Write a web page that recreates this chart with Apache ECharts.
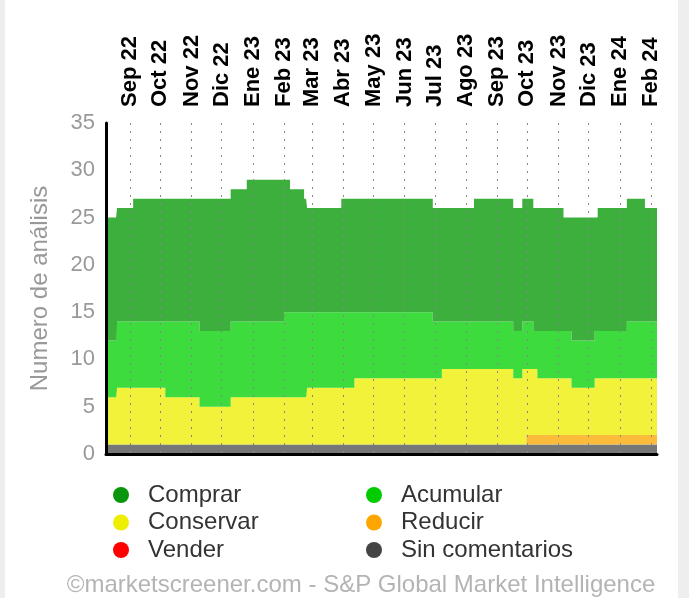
<!DOCTYPE html>
<html><head><meta charset="utf-8">
<script src="https://cdn.jsdelivr.net/npm/echarts@6/dist/echarts.min.js"></script>
<style>
html,body{margin:0;padding:0;background:#eeeeee;width:689px;height:598px;overflow:hidden;}
#chart{position:absolute;left:5px;top:0;width:673px;height:598px;background:#fff;}
</style></head><body><div id="chart"></div>
<script>
// Change dates (each value holds from its date until the next date)
const dates = ['2022-08-08','2022-08-18','2022-08-19','2022-09-04','2022-10-06','2022-11-09','2022-12-10','2022-12-26',
  '2023-02-01','2023-02-07','2023-02-21','2023-02-23','2023-02-24','2023-03-30','2023-04-12','2023-06-29',
  '2023-07-08','2023-08-09','2023-09-17','2023-09-26','2023-09-30','2023-10-07','2023-10-11','2023-11-06',
  '2023-11-14','2023-12-07','2023-12-10','2024-01-08','2024-01-26','2024-02-07'];
const comprar        = [13,11,12,13,13,14,14,15,14,13,12,12,11,12,12,12,12,13,13,13,13,13,13,12,13,12,13,13,12,12];
const acumular       = [6,7,7,7,8,8,8,8,9,9,9,8,8,8,7,6,5,5,5,5,5,4,5,5,5,5,5,6,6,6];
const conservar      = [5,6,6,6,5,4,5,5,5,5,5,6,6,6,7,7,8,8,7,8,7,7,6,6,5,6,6,6,6,6];
const reducir        = [0,0,0,0,0,0,0,0,0,0,0,0,0,0,0,0,0,0,0,0,1,1,1,1,1,1,1,1,1,1];
const vender         = [0,0,0,0,0,0,0,0,0,0,0,0,0,0,0,0,0,0,0,0,0,0,0,0,0,0,0,0,0,0];
const sinComentarios = [1,1,1,1,1,1,1,1,1,1,1,1,1,1,1,1,1,1,1,1,1,1,1,1,1,1,1,1,1,1];
const monthLabels = ['Ene','Feb','Mar','Abr','May','Jun','Jul','Ago','Sep','Oct','Nov','Dic'];
const xStart = '2022-08-08', xEnd = '2024-02-07';
const yTicks = [0, 5, 10, 15, 20, 25, 30, 35];

function ts(s){ const p = s.split('-'); return Date.UTC(+p[0], +p[1]-1, +p[2]); }
function pts(arr){ return dates.map((d,i)=>[ts(d), arr[i]]); }

const FONT = 'Liberation Sans, Arial, Helvetica, sans-serif';
const seriesDefs = [
  {name:'Sin comentarios', data:sinComentarios, icon:'#444444', area:'#777777'},
  {name:'Vender',          data:vender,         icon:'#ff0000', area:'#ff4040'},
  {name:'Reducir',         data:reducir,        icon:'#ffa500', area:'#fcbb3a'},
  {name:'Conservar',       data:conservar,      icon:'#eeee00', area:'#f2f23a'},
  {name:'Acumular',        data:acumular,       icon:'#00cc00', area:'#3ddb3d'},
  {name:'Comprar',         data:comprar,        icon:'#0a960a', area:'#3daf3d'}
];
const iconColor = {}; seriesDefs.forEach(s=>iconColor[s.name]=s.icon);
function legendItems(names){ return names.map(n=>({name:n, itemStyle:{color:iconColor[n]}})); }

const chart = echarts.init(document.getElementById('chart'), null, {renderer:'canvas'});
const legendCommon = {
  orient:'vertical', icon:'circle', itemWidth:44, itemHeight:16, itemGap:3.5,
  selectedMode:false, top:478,
  textStyle:{color:'#333', fontSize:24, fontFamily:FONT, lineHeight:24}
};
chart.setOption({
  useUTC: true,
  animation: false,
  backgroundColor: '#fff',
  textStyle: {fontFamily: FONT},
  grid: {left:101, right:21, top:123, bottom:144, containLabel:false},
  legend: [
    Object.assign({left:103, data:legendItems(['Comprar','Conservar','Vender'])}, legendCommon),
    Object.assign({left:356, data:legendItems(['Acumular','Reducir','Sin comentarios'])}, legendCommon)
  ],
  xAxis: [{
    type:'time', position:'top', min:ts(xStart), max:ts(xEnd),
    minInterval: 28*86400000, maxInterval: 31*86400000,
    z: 5,
    axisLine:{show:false}, axisTick:{show:false},
    axisLabel:{show:true, rotate:90, margin:16, interval:0, color:'#000', fontWeight:'bold', fontSize:22, fontFamily:FONT,
      showMinLabel:false, showMaxLabel:false,
      formatter:function(v){ const d=new Date(v); return monthLabels[d.getUTCMonth()]+' '+String(d.getUTCFullYear()).slice(2); }},
    splitLine:{show:true, showMinLine:false, showMaxLine:false, lineStyle:{color:'#888', width:1, type:[2,6]}}
  },{
    type:'time', position:'bottom', min:ts(xStart), max:ts(xEnd),
    axisLine:{show:true, onZero:false, lineStyle:{color:'#000', width:3}},
    axisTick:{show:false}, axisLabel:{show:false}, splitLine:{show:false}, z:6
  }],
  yAxis: {
    type:'value', min:yTicks[0], max:yTicks[yTicks.length-1], interval:yTicks[1]-yTicks[0],
    name:'Numero de análisis', nameLocation:'middle', nameGap:54,
    nameTextStyle:{color:'#999', fontSize:24, fontFamily:FONT},
    axisLine:{show:true, lineStyle:{color:'#000', width:3}},
    axisTick:{show:false}, splitLine:{show:false},
    axisLabel:{color:'#999', fontSize:22, margin:11, fontFamily:FONT},
    z: 6
  },
  series: seriesDefs.map(s=>({
    name:s.name, type:'line', step:'end', stack:'total', symbol:'none',
    xAxisIndex:0, data:pts(s.data),
    itemStyle:{color:s.icon}, lineStyle:{width:0, opacity:0},
    areaStyle:{color:s.area, opacity:1}
  })),
  graphic: [{
    type:'text', x:356, y:585,
    style:{text:'©marketscreener.com - S&P Global Market Intelligence', fill:'#b4b4b4', fontSize:24, fontFamily:FONT,
      textAlign:'center', textVerticalAlign:'middle'}
  }]
});
</script></body></html>
